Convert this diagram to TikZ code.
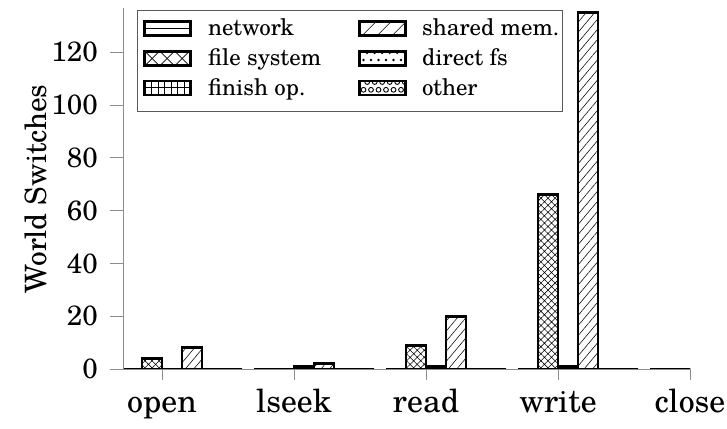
\documentclass[tikz,border=0pt]{standalone}
\usepackage{fontspec}
\setmainfont{texgyreschola-regular.otf}
\usetikzlibrary{patterns.meta}

\tikzset{
  axisline/.style={draw=black!45, line width=0.9bp},
  bar/.style={draw=black, line width=2.8bp, line join=miter},
  fsfill/.style={pattern={Hatch[angle=45,distance=5bp,line width=0.55bp]}, pattern color=black},
  shfill/.style={pattern={Lines[angle=50,distance=6.5bp,line width=0.55bp]}, pattern color=black},
  finfill/.style={pattern={Lines[angle=90,distance=6bp,line width=0.55bp]}, pattern color=black},
  hatchline/.style={draw=black, line width=0.6bp},
  ticklbl/.style={font=\fontsize{28}{30}\selectfont, inner sep=0pt, anchor=east},
  catlbl/.style={font=\fontsize{32}{36}\selectfont, inner sep=0pt, anchor=base},
  leglbl/.style={font=\fontsize{23}{26}\selectfont, inner sep=0pt, anchor=base west},
  ylbl/.style={font=\fontsize{29.5}{32}\selectfont, inner sep=0pt, rotate=90, anchor=base},
}

% value -> vertical position (baseline at 369, 2.64 units per switch)
\newcommand{\yv}[1]{369-#1*2.64}

\begin{document}
\begin{tikzpicture}[x=1bp,y=-1bp]
\useasboundingbox (0,0) rectangle (727,428);

% ---- bars, clipped to the plot area ----
\begin{scope}
  \clip (123,0) rectangle (690,369);
  \foreach \t/\fs/\fin/\sh in {162/4/0/8, 294/0/1/2, 426/9/1/20, 558/66/1/135, 690/0/0/0}{
    \draw[bar] (\t-40,369) rectangle (\t-20,369);
    \draw[bar,fsfill] (\t-20,369) rectangle (\t,{\yv{\fs}});
    \draw[bar,finfill] (\t,369) rectangle (\t+20,{\yv{\fin}});
    \draw[bar,shfill] (\t+20,369) rectangle (\t+40,{\yv{\sh}});
    \draw[bar] (\t+40,369) rectangle (\t+60,369);
    \draw[bar] (\t+60,369) rectangle (\t+80,369);
  }
\end{scope}

% ---- axes and ticks ----
\draw[axisline] (123,369) -- (690,369);
\draw[axisline] (123,369) -- (123,8);
\foreach \v in {0,20,...,120}{
  \draw[axisline] (110,{\yv{\v}}) -- (123,{\yv{\v}});
  \node[ticklbl] (y\v) at (98,{\yv{\v}}) {\v};
}
\foreach \t/\name in {162/open, 294/lseek, 426/read, 558/write, 690/close}{
  \draw[axisline] (\t,369) -- (\t,380);
  \node[catlbl] (c\name) at (\t,412) {\name};
}
% rotated axis title; its baseline runs vertically at x = 46
\node[ylbl] (ylabel) at (46,189) {World Switches};

% ---- legend ----
\draw[draw=black!65, line width=0.9bp] (137,10) rectangle (562,111);

% network
\begin{scope}[shift={(144.6,28.5)}]
  \draw[hatchline] (0,0) -- (46,0);
  \draw[bar] (0,-7) rectangle (46,7);
\end{scope}
% file system
\begin{scope}[shift={(144.6,58.5)}]
  \begin{scope}
    \clip (0,-7) rectangle (46,7);
    \foreach \k in {-1,0,1,2,3}{
      \draw[hatchline] (0.5+15*\k,-7) -- (14.5+15*\k,7);
      \draw[hatchline] (14.5+15*\k,-7) -- (0.5+15*\k,7);
    }
  \end{scope}
  \draw[bar] (0,-7) rectangle (46,7);
\end{scope}
% finish op.
\begin{scope}[shift={(144.6,88)}]
  \draw[hatchline] (0,-0.5) -- (46,-0.5);
  \foreach \k in {1,...,6}{\draw[hatchline] (6.6*\k,-7) -- (6.6*\k,7);}
  \draw[bar] (0,-7) rectangle (46,7);
\end{scope}
% shared mem.
\begin{scope}[shift={(359.3,28.5)}]
  \begin{scope}
    \clip (0,-7) rectangle (46,7);
    \foreach \k in {-1,0,1,2,3}{\draw[hatchline] (3+15*\k,7) -- (17+15*\k,-7);}
  \end{scope}
  \draw[bar] (0,-7) rectangle (46,7);
\end{scope}
% direct fs
\begin{scope}[shift={(359.3,58.5)}]
  \begin{scope}
    \clip (0,-7) rectangle (46,7);
    \foreach \k in {0,...,5}{
      \fill (4.2+7.5*\k,1.5) circle (1.3);
      \fill (7.9+7.5*\k,-5.6) circle (1.3);
    }
  \end{scope}
  \draw[bar] (0,-7) rectangle (46,7);
\end{scope}
% other
\begin{scope}[shift={(359.3,88)}]
  \begin{scope}
    \clip (0,-7) rectangle (46,7);
    \foreach \k in {0,...,5}{
      \draw[line width=0.9bp] (4.2+7.5*\k,1.8) circle (2.4);
      \draw[line width=0.9bp] (7.9+7.5*\k,-6) circle (2.4);
    }
  \end{scope}
  \draw[bar] (0,-7) rectangle (46,7);
\end{scope}

\node[leglbl] (lnet) at (208,35.5) {network};
\node[leglbl] (lfs)  at (208,65.5) {file system};
\node[leglbl] (lfin) at (208,95) {finish op.};
\node[leglbl] (lsh)  at (422,35.5) {shared mem.};
\node[leglbl] (ldir) at (422,65.5) {direct fs};
\node[leglbl] (loth) at (422,95) {other};
\end{tikzpicture}
\end{document}
